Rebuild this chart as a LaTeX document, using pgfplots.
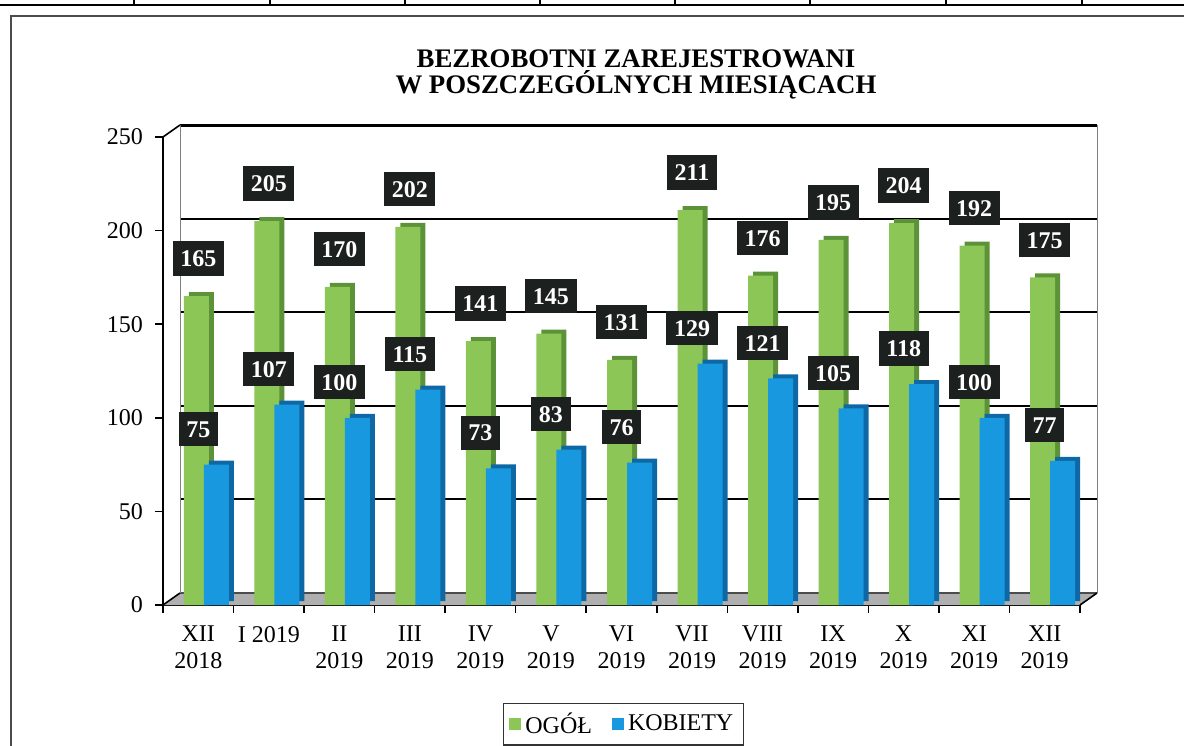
\documentclass[border=0pt]{standalone}
\usepackage{pgfplots}
\pgfplotsset{compat=1.18}
\usepackage{pgfplotstable}
\usepackage{fontspec}
\setmainfont{Liberation Serif}
\usetikzlibrary{calc}
\definecolor{gfront}{RGB}{140,198,86}
\definecolor{gside}{RGB}{92,146,56}
\definecolor{bfront}{RGB}{24,152,222}
\definecolor{bside}{RGB}{14,104,166}
\definecolor{lbl}{RGB}{28,32,30}
\definecolor{floorc}{RGB}{175,175,175}

\pgfplotstableread{
x ogol kob
0 165 75
1 205 107
2 170 100
3 202 115
4 141 73
5 145 83
6 131 76
7 211 129
8 176 121
9 195 105
10 204 118
11 192 100
12 175 77
}\data

\begin{document}
\begin{tikzpicture}
\begin{axis}[
  scale only axis, width=458.5pt, height=234pt,
  xmin=-0.5, xmax=12.5, ymin=0, ymax=250,
  clip=false,
  axis x line*=bottom, axis y line*=left,
  axis line style={line width=1pt, -},
  ytick={0,50,...,250},
  xtick={0,...,12},
  xticklabels={{XII\\2018},{I 2019},{II\\2019},{III\\2019},{IV\\2019},{V\\2019},{VI\\2019},{VII\\2019},{VIII\\2019},{IX\\2019},{X\\2019},{XI\\2019},{XII\\2019}},
  minor xtick={-0.5,0.5,...,12.5},
  tick align=outside,
  major tick length=4pt, minor tick length=4pt,
  major x tick style={draw=none},
  tick style={black, line width=0.8pt},
  ticklabel style={font=\fontsize{12}{13.5}\selectfont},
  xticklabel style={align=center, yshift=-3pt},
  yticklabel style={xshift=-2.5pt},
  /pgf/number format/assume math mode=true,
  legend image code/.code={\fill[#1] (0pt,-3pt) rectangle (6pt,3pt);},
  legend style={at={(0.502,-0.209)}, anchor=north, legend columns=-1,
    draw=black!80, line width=0.6pt, font=\fontsize{12}{14}\selectfont,
    inner xsep=3pt, inner ysep=2.5pt,
    /tikz/every even column/.append style={column sep=8pt}},
]
% floor
\fill[floorc] (axis cs:-0.5,0) -- (axis cs:12.5,0) -- ($(axis cs:12.5,0)+(8.5pt,6pt)$) -- ($(axis cs:-0.5,0)+(8.5pt,6pt)$) -- cycle;
\draw[black!70, line width=0.6pt] ($(axis cs:-0.5,0)+(8.5pt,6pt)$) -- ($(axis cs:12.5,0)+(8.5pt,6pt)$);
% back wall grid
\pgfplotsinvokeforeach{50,100,150,200}{
  \draw[line width=1pt] ($(axis cs:-0.5,#1)+(8.5pt,6pt)$) -- ($(axis cs:12.5,#1)+(8.5pt,6pt)$);
}
\draw[line width=1.5pt] ($(axis cs:-0.5,250)+(8.5pt,6pt)$) -- ($(axis cs:12.5,250)+(8.5pt,6pt)$);
\draw[black!50, line width=0.5pt] ($(axis cs:-0.5,0)+(8.5pt,6pt)$) -- ($(axis cs:-0.5,250)+(8.5pt,6pt)$);
\draw[black!50, line width=0.5pt] ($(axis cs:12.5,0)+(8.5pt,6pt)$) -- ($(axis cs:12.5,250)+(8.5pt,6pt)$);
\draw[line width=0.8pt] (axis cs:-0.5,250) -- ++(8.5pt,6pt);
\draw[line width=0.8pt] (axis cs:-0.5,0) -- ++(8.5pt,6pt);
\draw[line width=0.8pt] (axis cs:12.5,0) -- ++(8.5pt,6pt);
% bars
\addplot[ybar, bar width=12.5pt, bar shift=1.5pt, yshift=2pt, fill=gside, draw=none, forget plot] table[x=x,y=ogol]{\data};
\addplot[ybar, bar width=12.5pt, bar shift=-1pt, fill=gfront, draw=none,
  nodes near coords,
  every node near coord/.append style={fill=lbl, text=white, font=\bfseries\fontsize{12}{12}\selectfont,
    inner xsep=3.8pt, inner ysep=4.5pt, text height=8.2pt, text depth=0pt, anchor=south, yshift=10pt}]
  table[x=x,y=ogol]{\data};
\addlegendentry{OGÓŁ}
\addplot[ybar, bar width=12.5pt, bar shift=11.5pt, yshift=2pt, fill=bside, draw=none, forget plot] table[x=x,y=kob]{\data};
\addplot[ybar, bar width=12.5pt, bar shift=9pt, fill=bfront, draw=none,
  nodes near coords,
  every node near coord/.append style={fill=lbl, text=white, font=\bfseries\fontsize{12}{12}\selectfont,
    inner xsep=3.8pt, inner ysep=4.5pt, text height=8.2pt, text depth=0pt, anchor=south, yshift=9pt}]
  table[x=x,y=kob]{\data};
\addlegendentry{KOBIETY}
\end{axis}
% title
\node[anchor=base, font=\bfseries\fontsize{13.4}{14}\selectfont] at (236.5pt,268.5pt) {BEZROBOTNI ZAREJESTROWANI};
\node[anchor=base, font=\bfseries\fontsize{13.4}{14}\selectfont] at (236.5pt,255.5pt) {W POSZCZEGÓLNYCH MIESIĄCACH};
% frame and table fragment
\draw[line width=1pt, black!70] (-76pt,-80pt) -- (-76pt,294.5pt) -- (520pt,294.5pt);
\draw[line width=1pt] (-90pt,300pt) -- (520pt,300pt);
\foreach \xx in {-14.5,53.5,121,188.5,256,323.5,391.5,459.5}{
  \draw[line width=0.8pt] (\xx pt,300pt) -- (\xx pt,306pt);
}
\pgfresetboundingbox
\useasboundingbox (-81.5pt,-70pt) rectangle (510.5pt,302.5pt);
\end{tikzpicture}
\end{document}
